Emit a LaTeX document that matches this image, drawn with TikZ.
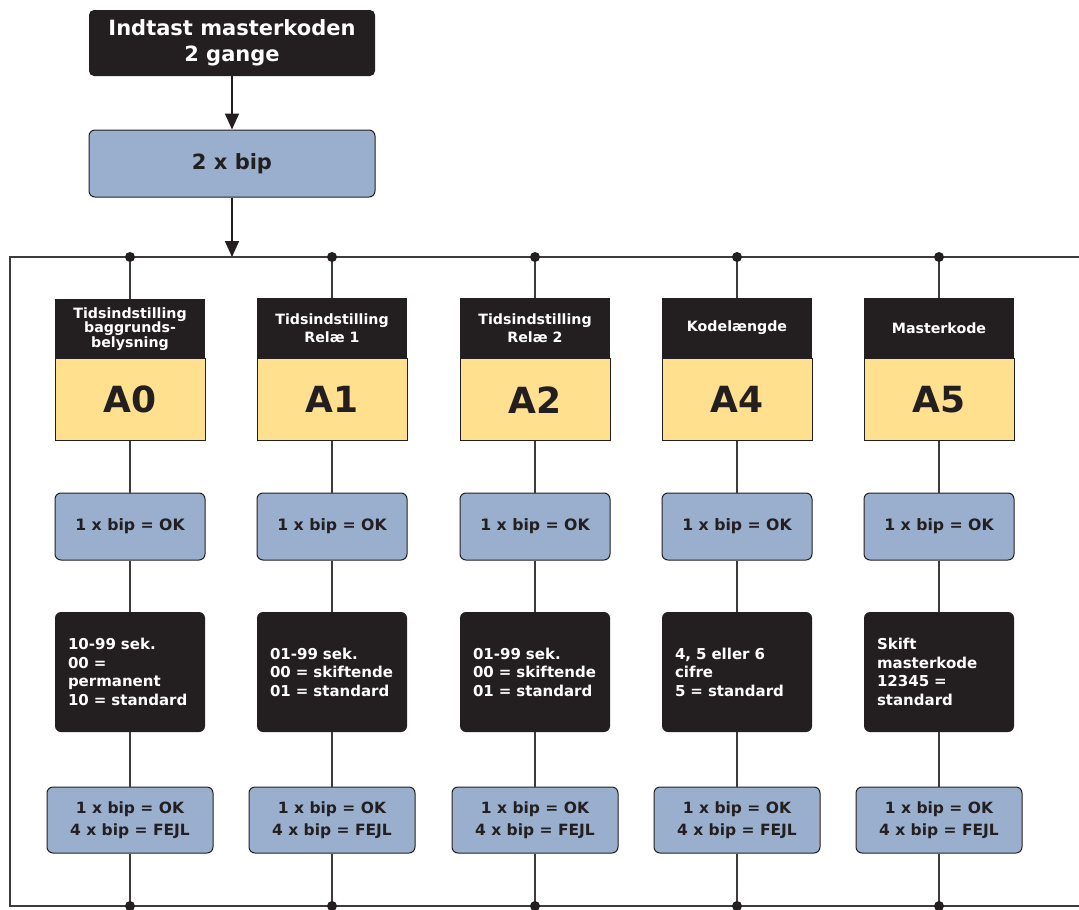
\documentclass[tikz,border=0pt]{standalone}
\usepackage{fontspec}
\setmainfont{DejaVu Sans}
\usepackage{xcolor}
\usepackage{tikz}
\usetikzlibrary{arrows.meta}

\definecolor{boxblack}{HTML}{231F20}
\definecolor{boxblue}{HTML}{9AAFCE}
\definecolor{boxyellow}{HTML}{FFE08E}
\definecolor{wire}{HTML}{3C3C3C}

\tikzset{
  titlebox/.style={fill=boxblack, text=white, rounded corners=5pt,
    minimum width=286pt, minimum height=66pt, align=center,
    font=\fontsize{21}{26}\selectfont\bfseries},
  bipbox/.style={fill=boxblue, draw=boxblack, line width=1pt, rounded corners=6pt,
    text=boxblack, minimum width=286pt, minimum height=67pt,
    font=\fontsize{21}{26}\selectfont\bfseries},
  headbox/.style={fill=boxblack, text=white, minimum width=150pt, minimum height=60pt,
    inner sep=2pt, align=center, font=\fontsize{14.2}{18}\selectfont\bfseries},
  codebox/.style={fill=boxyellow, draw=boxblack, line width=1pt, minimum width=150pt,
    minimum height=82pt, text=boxblack, font=\fontsize{36}{40}\selectfont\bfseries},
  okbox/.style={fill=boxblue, draw=boxblack, line width=1pt, rounded corners=6pt,
    text=boxblack, minimum width=150pt, minimum height=67pt,
    font=\fontsize{15.7}{19}\selectfont\bfseries},
  infobox/.style={fill=boxblack, text=white, rounded corners=6pt,
    minimum height=120pt, text width=124pt, inner xsep=13pt, align=left,
    font=\fontsize{15}{18.5}\selectfont\bfseries},
  resultbox/.style={fill=boxblue, draw=boxblack, line width=1pt, rounded corners=6pt,
    text=boxblack, minimum width=166pt, minimum height=66pt, align=center,
    font=\fontsize{15.5}{22}\selectfont\bfseries},
  wireline/.style={draw=wire, line width=1.3pt},
  feed/.style={draw=boxblack, line width=1.8pt, -{Triangle[length=16pt,width=14pt]}}
}

\begin{document}
\begin{tikzpicture}[x=1pt, y=-1pt]
  \useasboundingbox (0,0) rectangle (1079,910);

  % start
  \node[titlebox] (master) at (232,43) {Indtast masterkoden\\2 gange};
  \node[bipbox] (twobip) at (232,163.5) {2 x bip};
  \coordinate (join) at (232,257);
  \draw[feed] (master) -- (twobip);
  \draw[feed] (twobip) -- (join);

  % frame
  \draw[wireline] (1079,257) -- (10,257) -- (10,906) -- (1079,906);

  % A0
  \coordinate (top0) at (130,257);
  \coordinate (bot0) at (130,906);
  \node[headbox, font=\fontsize{14.2}{14.5}\selectfont\bfseries] (head0) at (130,329)
    {Tidsindstilling\\baggrunds-\\belysning};
  \node[codebox, anchor=north] (code0) at (130,358) {A0};
  \node[okbox] (ok0) at (130,526.5) {1 x bip = OK};
  \node[infobox] (info0) at (130,672) {10-99 sek.\\00 =\\permanent\\10 = standard};
  \node[resultbox] (res0) at (130,820) {1 x bip = OK\\4 x bip = FEJL};

  % A1
  \coordinate (top1) at (332,257);
  \coordinate (bot1) at (332,906);
  \node[headbox] (head1) at (332,328) {Tidsindstilling\\Relæ 1};
  \node[codebox, anchor=north] (code1) at (head1.south) {A1};
  \node[okbox] (ok1) at (332,526.5) {1 x bip = OK};
  \node[infobox] (info1) at (332,672) {01-99 sek.\\00 = skiftende\\01 = standard};
  \node[resultbox] (res1) at (332,820) {1 x bip = OK\\4 x bip = FEJL};

  % A2
  \coordinate (top2) at (535,257);
  \coordinate (bot2) at (535,906);
  \node[headbox] (head2) at (535,328) {Tidsindstilling\\Relæ 2};
  \node[codebox, anchor=north] (code2) at (head2.south) {A2};
  \node[okbox] (ok2) at (535,526.5) {1 x bip = OK};
  \node[infobox] (info2) at (535,672) {01-99 sek.\\00 = skiftende\\01 = standard};
  \node[resultbox] (res2) at (535,820) {1 x bip = OK\\4 x bip = FEJL};

  % A4
  \coordinate (top3) at (737,257);
  \coordinate (bot3) at (737,906);
  \node[headbox] (head3) at (737,328) {Kodelængde};
  \node[codebox, anchor=north] (code3) at (head3.south) {A4};
  \node[okbox] (ok3) at (737,526.5) {1 x bip = OK};
  \node[infobox] (info3) at (737,672) {4, 5 eller 6\\cifre\\5 = standard};
  \node[resultbox] (res3) at (737,820) {1 x bip = OK\\4 x bip = FEJL};

  % A5
  \coordinate (top4) at (939,257);
  \coordinate (bot4) at (939,906);
  \node[headbox] (head4) at (939,328) {Masterkode};
  \node[codebox, anchor=north] (code4) at (head4.south) {A5};
  \node[okbox] (ok4) at (939,526.5) {1 x bip = OK};
  \node[infobox] (info4) at (939,672) {Skift\\masterkode\\12345 =\\standard};
  \node[resultbox] (res4) at (939,820) {1 x bip = OK\\4 x bip = FEJL};

  % column wires
  \foreach \i in {0,...,4} {
    \draw[wireline] (top\i) -- (head\i.north);
    \draw[wireline] (code\i.south) -- (ok\i.north);
    \draw[wireline] (ok\i.south) -- (info\i.north);
    \draw[wireline] (info\i.south) -- (res\i.north);
    \draw[wireline] (res\i.south) -- (bot\i);
    \fill[boxblack] (top\i) circle (5pt);
    \fill[boxblack] (bot\i) circle (5pt);
  }
\end{tikzpicture}
\end{document}
